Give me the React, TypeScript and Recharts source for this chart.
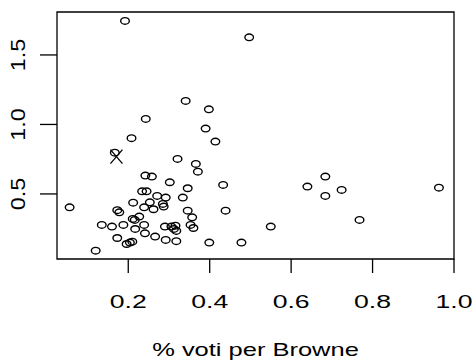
import { ScatterChart, Scatter, XAxis, YAxis, ReferenceArea } from "recharts";

// share of votes for Browne (x) and the plotted value (y), one entry per point
const browneShare = [
  0.192, 0.497, 0.341, 0.398, 0.243, 0.39, 0.208, 0.414, 0.167, 0.321,
  0.366, 0.371, 0.242, 0.258, 0.302, 0.346, 0.433, 0.439, 0.056, 0.234,
  0.245, 0.271, 0.292, 0.334, 0.212, 0.253, 0.285, 0.287, 0.239, 0.262,
  0.173, 0.178, 0.346, 0.357, 0.227, 0.211, 0.216, 0.135, 0.16, 0.188,
  0.239, 0.217, 0.29, 0.306, 0.316, 0.312, 0.318, 0.353, 0.36, 0.173,
  0.241, 0.266, 0.292, 0.318, 0.196, 0.204, 0.21, 0.12, 0.399, 0.478,
  0.55, 0.64, 0.684, 0.684, 0.724, 0.768, 0.963,
];
const values = [
  1.745, 1.627, 1.169, 1.109, 1.04, 0.97, 0.901, 0.877, 0.797, 0.752,
  0.716, 0.66, 0.632, 0.625, 0.584, 0.541, 0.565, 0.38, 0.404, 0.519,
  0.519, 0.486, 0.474, 0.474, 0.437, 0.44, 0.428, 0.409, 0.404, 0.39,
  0.383, 0.368, 0.38, 0.332, 0.337, 0.32, 0.313, 0.277, 0.265, 0.277,
  0.277, 0.248, 0.265, 0.265, 0.272, 0.248, 0.234, 0.277, 0.255, 0.183,
  0.217, 0.193, 0.169, 0.16, 0.14, 0.15, 0.157, 0.092, 0.15, 0.15,
  0.265, 0.553, 0.625, 0.486, 0.529, 0.313, 0.545,
];
// the point marked with an X
const markedX = [0.171];
const markedY = [0.769];

const xTicks = [0.2, 0.4, 0.6, 0.8, 1.0];
const yTicks = [0.5, 1.0, 1.5];
const xDomain = [0.025, 1.0];
const yDomain = [0.032, 1.809];

const points = browneShare.map((x, i) => ({ x, y: values[i] }));
const marked = markedX.map((x, i) => ({ x, y: markedY[i] }));

const FONT = "'Liberation Sans', Arial, Helvetica, sans-serif";

const Circle = (props: any) => (
  <ellipse cx={props.cx} cy={props.cy} rx={4.3} ry={3.3} fill="none" stroke="#000" strokeWidth={1.4} />
);

const Cross = (props: any) => {
  const { cx, cy } = props;
  return (
    <g stroke="#000" strokeWidth={1.3}>
      <line x1={cx - 6} y1={cy - 7} x2={cx + 6} y2={cy + 7} />
      <line x1={cx - 6} y1={cy + 7} x2={cx + 6} y2={cy - 7} />
    </g>
  );
};

const XTick = (props: any) => (
  <text
    transform={`translate(${props.x},${props.y + 35}) scale(1.4,1)`}
    textAnchor="middle"
    fontFamily={FONT}
    fontSize={19}
    fill="#000"
  >
    {props.payload.value.toFixed(1)}
  </text>
);

const YTick = (props: any) => (
  <text
    transform={`translate(${props.x - 15},${props.y}) rotate(-90) scale(1.17,1)`}
    textAnchor="middle"
    fontFamily={FONT}
    fontSize={20}
    fill="#000"
  >
    {props.payload.value.toFixed(1)}
  </text>
);

const XTitle = (props: any) => {
  const { x, y, width } = props.viewBox;
  return (
    <text
      transform={`translate(${x + width / 2},${y + 97}) scale(1.37,1)`}
      textAnchor="middle"
      fontFamily={FONT}
      fontSize={18.6}
      fill="#000"
    >
      % voti per Browne
    </text>
  );
};

export default function App() {
  return (
    <div style={{ position: "absolute", left: 0, top: 0, background: "#fff" }}>
      <ScatterChart width={475} height={363} margin={{ top: 12, right: 21, bottom: 0, left: 0 }}>
        <XAxis
          type="number"
          dataKey="x"
          domain={xDomain}
          ticks={xTicks}
          allowDataOverflow
          axisLine={false}
          tickLine={{ stroke: "#000", strokeWidth: 1.3 }}
          tickSize={14}
          tickMargin={0}
          height={104}
          tick={<XTick />}
          label={{ content: <XTitle /> }}
        />
        <YAxis
          type="number"
          dataKey="y"
          domain={yDomain}
          ticks={yTicks}
          allowDataOverflow
          axisLine={false}
          tickLine={{ stroke: "#000", strokeWidth: 1.3 }}
          tickSize={17}
          tickMargin={0}
          width={57}
          tick={<YTick />}
        />
        <ReferenceArea
          x1={xDomain[0]}
          x2={xDomain[1]}
          y1={yDomain[0]}
          y2={yDomain[1]}
          fill="none"
          stroke="#000"
          strokeWidth={1.3}
          ifOverflow="visible"
        />
        <Scatter data={points} shape={<Circle />} isAnimationActive={false} />
        <Scatter data={marked} shape={<Cross />} isAnimationActive={false} />
      </ScatterChart>
    </div>
  );
}
